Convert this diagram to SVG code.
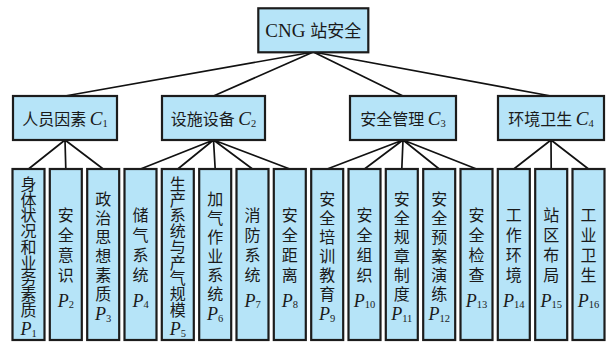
<svg xmlns="http://www.w3.org/2000/svg" width="611" height="346" viewBox="0 0 611 346">
<defs>
<style>
.box{fill:#b6e4f8;stroke:#1c1c1c;stroke-width:2.2}
.ln{stroke:#111;stroke-width:1.7;fill:none}
.cn{font-family:"Noto Sans CJK SC","Liberation Serif",sans-serif;font-size:16px;fill:#1a1a1a;text-anchor:middle}
.v{font-family:"Noto Sans CJK SC",sans-serif;font-size:16px;fill:#1a1a1a;writing-mode:vertical-rl;text-anchor:start}
.v4{letter-spacing:4px}
.v6{letter-spacing:3px}
.v9{letter-spacing:-0.3px}
.lt{font-family:"Liberation Serif","Times New Roman",serif;font-style:italic;fill:#1a1a1a}
.pl{font-family:"Liberation Serif","Times New Roman",serif;font-style:italic;fill:#1a1a1a;font-size:18px;text-anchor:middle}
.sub{font-family:"Liberation Serif",serif;font-style:normal;font-size:10.5px}
.ttl{font-family:"Liberation Serif","Noto Sans CJK SC",serif;font-size:19px;fill:#1a1a1a;text-anchor:middle}
</style>
</defs>
<rect width="611" height="346" fill="#fff"/>
<g id="connectors">
<path class="ln" d="M313.3 52 L65 96 M313.3 52 L213.5 96 M313.3 52 L403 96 M313.3 52 L551 96"/>
<path class="ln" d="M65 140 L28.5 169 M65 140 L65.8 169 M65 140 L103.2 169"/>
<path class="ln" d="M213.5 140 L140.5 169 M213.5 140 L177.8 169 M213.5 140 L215.2 169 M213.5 140 L252.5 169 M213.5 140 L289.8 169"/>
<path class="ln" d="M403 140 L327.2 169 M403 140 L364.5 169 M403 140 L401.8 169 M403 140 L439.2 169 M403 140 L476.5 169"/>
<path class="ln" d="M551 140 L513.8 169 M551 140 L551.2 169 M551 140 L588.5 169"/>
</g>
<g id="root">
<rect class="box" x="258.3" y="8.3" width="110" height="44"/>
<text class="ttl" x="313.3" y="37">CNG <tspan style="font-family:'Noto Sans CJK SC',sans-serif;font-size:17px">站安全</tspan></text>
</g>
<g id="c1">
<rect class="box" x="13" y="96" width="104" height="44"/>
<text class="cn" x="65" y="125">人员因素 <tspan class="lt" font-size="19">C</tspan><tspan class="sub" dy="2">1</tspan></text>
</g>
<g id="c2">
<rect class="box" x="162" y="96" width="103" height="44"/>
<text class="cn" x="213.5" y="125">设施设备 <tspan class="lt" font-size="19">C</tspan><tspan class="sub" dy="2">2</tspan></text>
</g>
<g id="c3">
<rect class="box" x="350" y="96" width="106" height="44"/>
<text class="cn" x="403" y="125">安全管理 <tspan class="lt" font-size="19">C</tspan><tspan class="sub" dy="2">3</tspan></text>
</g>
<g id="c4">
<rect class="box" x="498" y="96" width="106" height="44"/>
<text class="cn" x="551" y="125">环境卫生 <tspan class="lt" font-size="19">C</tspan><tspan class="sub" dy="2">4</tspan></text>
</g>
<g id="p1">
<rect class="box" x="12.5" y="169" width="32" height="171"/>
<text class="v v9" x="28.5" y="176">身体状况和业务素质</text>
<text class="pl" x="28.5" y="335">P<tspan class="sub" dy="1.5">1</tspan></text>
</g>
<g id="p2">
<rect class="box" x="49.8" y="169" width="32" height="171"/>
<text class="v v4" x="65.8" y="206.5">安全意识</text>
<text class="pl" x="65.8" y="306.5">P<tspan class="sub" dy="1.5">2</tspan></text>
</g>
<g id="p3">
<rect class="box" x="87.2" y="169" width="32" height="171"/>
<text class="v v6" x="103.2" y="190.5">政治思想素质</text>
<text class="pl" x="103.2" y="320">P<tspan class="sub" dy="1.5">3</tspan></text>
</g>
<g id="p4">
<rect class="box" x="124.5" y="169" width="32" height="171"/>
<text class="v v4" x="140.5" y="206.5">储气系统</text>
<text class="pl" x="140.5" y="306.5">P<tspan class="sub" dy="1.5">4</tspan></text>
</g>
<g id="p5">
<rect class="box" x="161.8" y="169" width="32" height="171"/>
<text class="v v9" x="177.8" y="176">生产系统与产气规模</text>
<text class="pl" x="177.8" y="335">P<tspan class="sub" dy="1.5">5</tspan></text>
</g>
<g id="p6">
<rect class="box" x="199.2" y="169" width="32" height="171"/>
<text class="v v6" x="215.2" y="190.5">加气作业系统</text>
<text class="pl" x="215.2" y="320">P<tspan class="sub" dy="1.5">6</tspan></text>
</g>
<g id="p7">
<rect class="box" x="236.5" y="169" width="32" height="171"/>
<text class="v v4" x="252.5" y="206.5">消防系统</text>
<text class="pl" x="252.5" y="306.5">P<tspan class="sub" dy="1.5">7</tspan></text>
</g>
<g id="p8">
<rect class="box" x="273.8" y="169" width="32" height="171"/>
<text class="v v4" x="289.8" y="206.5">安全距离</text>
<text class="pl" x="289.8" y="306.5">P<tspan class="sub" dy="1.5">8</tspan></text>
</g>
<g id="p9">
<rect class="box" x="311.2" y="169" width="32" height="171"/>
<text class="v v6" x="327.2" y="190.5">安全培训教育</text>
<text class="pl" x="327.2" y="320">P<tspan class="sub" dy="1.5">9</tspan></text>
</g>
<g id="p10">
<rect class="box" x="348.5" y="169" width="32" height="171"/>
<text class="v v4" x="364.5" y="206.5">安全组织</text>
<text class="pl" x="364.5" y="306.5">P<tspan class="sub" dy="1.5">10</tspan></text>
</g>
<g id="p11">
<rect class="box" x="385.8" y="169" width="32" height="171"/>
<text class="v v6" x="401.8" y="190.5">安全规章制度</text>
<text class="pl" x="401.8" y="320">P<tspan class="sub" dy="1.5">11</tspan></text>
</g>
<g id="p12">
<rect class="box" x="423.2" y="169" width="32" height="171"/>
<text class="v v6" x="439.2" y="190.5">安全预案演练</text>
<text class="pl" x="439.2" y="320">P<tspan class="sub" dy="1.5">12</tspan></text>
</g>
<g id="p13">
<rect class="box" x="460.5" y="169" width="32" height="171"/>
<text class="v v4" x="476.5" y="206.5">安全检查</text>
<text class="pl" x="476.5" y="306.5">P<tspan class="sub" dy="1.5">13</tspan></text>
</g>
<g id="p14">
<rect class="box" x="497.8" y="169" width="32" height="171"/>
<text class="v v4" x="513.8" y="206.5">工作环境</text>
<text class="pl" x="513.8" y="306.5">P<tspan class="sub" dy="1.5">14</tspan></text>
</g>
<g id="p15">
<rect class="box" x="535.2" y="169" width="32" height="171"/>
<text class="v v4" x="551.2" y="206.5">站区布局</text>
<text class="pl" x="551.2" y="306.5">P<tspan class="sub" dy="1.5">15</tspan></text>
</g>
<g id="p16">
<rect class="box" x="572.5" y="169" width="32" height="171"/>
<text class="v v4" x="588.5" y="206.5">工业卫生</text>
<text class="pl" x="588.5" y="306.5">P<tspan class="sub" dy="1.5">16</tspan></text>
</g>
</svg>
